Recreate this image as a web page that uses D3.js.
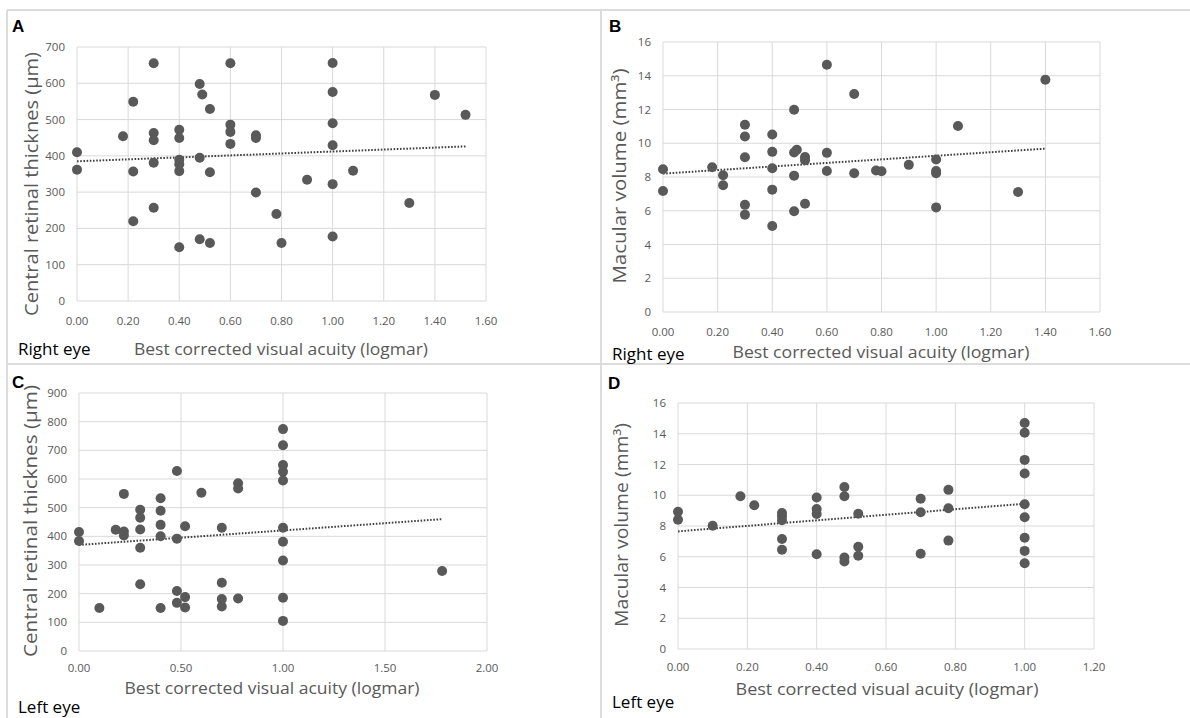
<!DOCTYPE html>
<html>
<head>
<meta charset="utf-8">
<script src="https://cdn.jsdelivr.net/npm/d3@7"></script>
<style>
  body { margin: 0; background: #fff; }
  svg { display: block; }
</style>
</head>
<body>
<div id="chart"></div>
<script>
// panel A - right eye, central retinal thickness
var aX = [0, 0, 0.18, 0.22, 0.22, 0.22, 0.30, 0.30, 0.30, 0.30, 0.30, 0.40, 0.40, 0.40, 0.40, 0.40, 0.40,
  0.48, 0.49, 0.48, 0.48, 0.52, 0.52, 0.52, 0.60, 0.60, 0.60, 0.60, 0.70, 0.70, 0.70, 0.78, 0.80, 0.90,
  1.00, 1.00, 1.00, 1.00, 1.00, 1.00, 1.08, 1.30, 1.40, 1.52];
var aY = [410, 362, 454, 549, 357, 220, 655, 463, 443, 381, 257, 472, 449, 389, 377, 358, 148,
  598, 569, 395, 170, 529, 355, 160, 655, 486, 466, 433, 457, 449, 299, 240, 160, 334,
  656, 576, 490, 429, 322, 178, 359, 270, 568, 513];

// panel B - right eye, macular volume
var bX = [0, 0, 0.18, 0.22, 0.22, 0.30, 0.30, 0.30, 0.30, 0.30, 0.40, 0.40, 0.40, 0.40, 0.40,
  0.48, 0.49, 0.48, 0.48, 0.48, 0.52, 0.52, 0.52, 0.60, 0.60, 0.60, 0.70, 0.70, 0.78, 0.80, 0.90,
  1.00, 1.00, 1.00, 1.00, 1.08, 1.30, 1.40];
var bY = [8.46, 7.17, 8.58, 8.10, 7.51, 11.10, 10.40, 9.17, 6.35, 5.77, 10.52, 9.49, 8.52, 7.25, 5.10,
  11.99, 9.61, 9.45, 8.08, 5.97, 9.19, 9.00, 6.42, 14.65, 9.43, 8.36, 12.92, 8.22, 8.38, 8.34, 8.72,
  9.04, 8.36, 8.22, 6.20, 11.02, 7.11, 13.76];

// panel C - left eye, central retinal thickness
var cX = [0, 0, 0.10, 0.18, 0.22, 0.22, 0.22, 0.30, 0.30, 0.30, 0.30, 0.30, 0.40, 0.40, 0.40, 0.40, 0.40,
  0.48, 0.48, 0.48, 0.48, 0.52, 0.52, 0.52, 0.60, 0.70, 0.70, 0.70, 0.70, 0.78, 0.78, 0.78,
  1.00, 1.00, 1.00, 1.00, 1.00, 1.00, 1.00, 1.00, 1.00, 1.00, 1.78];
var cY = [415, 384, 150, 423, 548, 417, 403, 493, 465, 424, 360, 233, 533, 489, 440, 400, 150,
  628, 392, 209, 168, 435, 188, 152, 552, 430, 238, 181, 155, 585, 567, 183,
  774, 718, 649, 625, 595, 430, 381, 316, 186, 105, 279];

// panel D - left eye, macular volume
var dX = [0, 0, 0.10, 0.18, 0.22, 0.30, 0.30, 0.30, 0.30, 0.30, 0.40, 0.40, 0.40, 0.40,
  0.48, 0.48, 0.48, 0.48, 0.52, 0.52, 0.52, 0.70, 0.70, 0.70, 0.78, 0.78, 0.78,
  1.00, 1.00, 1.00, 1.00, 1.00, 1.00, 1.00, 1.00, 1.00];
var dY = [8.93, 8.41, 8.02, 9.93, 9.35, 8.85, 8.63, 8.37, 7.16, 6.45, 9.85, 9.11, 8.78, 6.16,
  10.54, 9.93, 5.95, 5.69, 8.80, 6.65, 6.06, 9.78, 8.89, 6.19, 10.35, 9.15, 7.05,
  14.70, 14.07, 12.30, 11.41, 9.41, 8.57, 7.23, 6.38, 5.58];

// linear trend lines: [x start, y start, x end, y end]
var trendA = [0, 385, 1.52, 426];
var trendB = [0, 8.2, 1.40, 9.68];
var trendC = [0, 370, 1.78, 460];
var trendD = [0, 7.65, 1.00, 9.45];

var xTicksA = [0, 0.2, 0.4, 0.6, 0.8, 1.0, 1.2, 1.4, 1.6];
var xTicksC = [0, 0.5, 1.0, 1.5, 2.0];
var xTicksD = [0, 0.2, 0.4, 0.6, 0.8, 1.0, 1.2];
var yTicksThick = [0, 100, 200, 300, 400, 500, 600, 700];
var yTicksThickC = [0, 100, 200, 300, 400, 500, 600, 700, 800, 900];
var yTicksVol = [0, 2, 4, 6, 8, 10, 12, 14, 16];

var xTitle = "Best corrected visual acuity (logmar)";
var thickTitle = "Central retinal thicknes (\u00b5m)";
var volTitle = "Macular volume (mm\u00b3)";

var width = 1190;
var height = 718;
var font = "'Open Sans', sans-serif";
var grey = "#595959";

var svg = d3.select("#chart").append("svg")
  .attr("width", width)
  .attr("height", height);

// frame lines between the panels
var frame = [[7, 10, 1190, 10], [7, 10, 7, 718], [7, 364, 1190, 364], [601, 10, 601, 718]];
svg.selectAll("line.frame")
  .data(frame)
  .enter().append("line")
  .attr("class", "frame")
  .attr("x1", function(d) { return d[0]; })
  .attr("y1", function(d) { return d[1]; })
  .attr("x2", function(d) { return d[2]; })
  .attr("y2", function(d) { return d[3]; })
  .style("stroke", "#dcdcdc")
  .style("stroke-width", 2);

function drawPanel(p) {
  var g = svg.append("g");
  var x = d3.scaleLinear().domain([p.xTicks[0], p.xTicks[p.xTicks.length - 1]]).range([p.left, p.right]);
  var y = d3.scaleLinear().domain([p.yTicks[0], p.yTicks[p.yTicks.length - 1]]).range([p.bottom, p.top]);

  // gridlines
  g.selectAll("line.hg")
    .data(p.yTicks)
    .enter().append("line")
    .attr("x1", p.left).attr("x2", p.right)
    .attr("y1", function(d) { return y(d); })
    .attr("y2", function(d) { return y(d); })
    .style("stroke", "#d9d9d9")
    .style("stroke-width", 1);
  g.selectAll("line.vg")
    .data(p.xTicks)
    .enter().append("line")
    .attr("y1", p.top).attr("y2", p.bottom)
    .attr("x1", function(d) { return x(d); })
    .attr("x2", function(d) { return x(d); })
    .style("stroke", "#d9d9d9")
    .style("stroke-width", 1);

  // tick labels
  g.selectAll("text.yl")
    .data(p.yTicks)
    .enter().append("text")
    .attr("x", p.left - 12)
    .attr("y", function(d) { return y(d) + 4; })
    .attr("text-anchor", "end")
    .style("font-family", font)
    .style("font-size", "11.5px")
    .style("fill", grey)
    .text(function(d) { return d; });
  g.selectAll("text.xl")
    .data(p.xTicks)
    .enter().append("text")
    .attr("x", function(d) { return x(d); })
    .attr("y", p.xLabelY)
    .attr("text-anchor", "middle")
    .style("font-family", font)
    .style("font-size", "11.5px")
    .style("fill", grey)
    .text(function(d) { return d3.format(".2f")(d); });

  // dotted trend line
  g.append("line")
    .attr("x1", x(p.trend[0])).attr("y1", y(p.trend[1]))
    .attr("x2", x(p.trend[2])).attr("y2", y(p.trend[3]))
    .style("stroke", "#404040")
    .style("stroke-width", 2)
    .style("stroke-dasharray", "1.6,1.6");

  // points
  var pts = p.xs.map(function(v, i) { return [v, p.ys[i]]; });
  g.selectAll("circle")
    .data(pts)
    .enter().append("circle")
    .attr("cx", function(d) { return x(d[0]); })
    .attr("cy", function(d) { return y(d[1]); })
    .attr("r", 5)
    .style("fill", grey);

  // axis titles
  g.append("text")
    .attr("x", p.xTitleX)
    .attr("y", p.xTitleY)
    .attr("text-anchor", "middle")
    .attr("textLength", p.xTitleLen)
    .attr("lengthAdjust", "spacingAndGlyphs")
    .style("font-family", font)
    .style("font-size", "17px")
    .style("fill", grey)
    .text(xTitle);
  g.append("text")
    .attr("transform", "translate(" + p.yTitleX + "," + p.yTitleY + ")rotate(-90)")
    .attr("text-anchor", "middle")
    .attr("textLength", p.yTitleLen)
    .attr("lengthAdjust", "spacingAndGlyphs")
    .style("font-family", font)
    .style("font-size", "18px")
    .style("fill", grey)
    .text(p.yTitle);

  // eye label and panel letter
  g.append("text")
    .attr("x", p.eyeX)
    .attr("y", p.eyeY)
    .style("font-family", font)
    .style("font-size", "17px")
    .style("fill", "#000")
    .text(p.eye);
  g.append("text")
    .attr("x", p.letterX)
    .attr("y", p.letterY)
    .style("font-family", "'Liberation Sans', Arial, sans-serif")
    .style("font-weight", "bold")
    .style("font-size", "17px")
    .style("fill", "#000")
    .text(p.letter);
}

drawPanel({
  xs: aX, ys: aY, trend: trendA, xTicks: xTicksA, yTicks: yTicksThick,
  left: 77, right: 486, top: 47, bottom: 301, xLabelY: 325,
  xTitleX: 281, xTitleY: 355, xTitleLen: 294,
  yTitle: thickTitle, yTitleX: 38, yTitleY: 184, yTitleLen: 264,
  eye: "Right eye", eyeX: 18, eyeY: 355, letter: "A", letterX: 12, letterY: 32
});
drawPanel({
  xs: bX, ys: bY, trend: trendB, xTicks: xTicksA, yTicks: yTicksVol,
  left: 663, right: 1100, top: 42, bottom: 312, xLabelY: 336,
  xTitleX: 881, xTitleY: 358, xTitleLen: 297,
  yTitle: volTitle, yTitleX: 626, yTitleY: 176, yTitleLen: 215,
  eye: "Right eye", eyeX: 612, eyeY: 360, letter: "B", letterX: 609, letterY: 32
});
drawPanel({
  xs: cX, ys: cY, trend: trendC, xTicks: xTicksC, yTicks: yTicksThickC,
  left: 79, right: 487, top: 393, bottom: 651, xLabelY: 672,
  xTitleX: 272, xTitleY: 694, xTitleLen: 295,
  yTitle: thickTitle, yTitleX: 37, yTitleY: 521, yTitleLen: 272,
  eye: "Left eye", eyeX: 18, eyeY: 713, letter: "C", letterX: 12, letterY: 388
});
drawPanel({
  xs: dX, ys: dY, trend: trendD, xTicks: xTicksD, yTicks: yTicksVol,
  left: 678, right: 1094, top: 403, bottom: 649, xLabelY: 671,
  xTitleX: 887, xTitleY: 695, xTitleLen: 303,
  yTitle: volTitle, yTitleX: 628, yTitleY: 525, yTitleLen: 204,
  eye: "Left eye", eyeX: 612, eyeY: 708, letter: "D", letterX: 608, letterY: 389
});
</script>
</body>
</html>
